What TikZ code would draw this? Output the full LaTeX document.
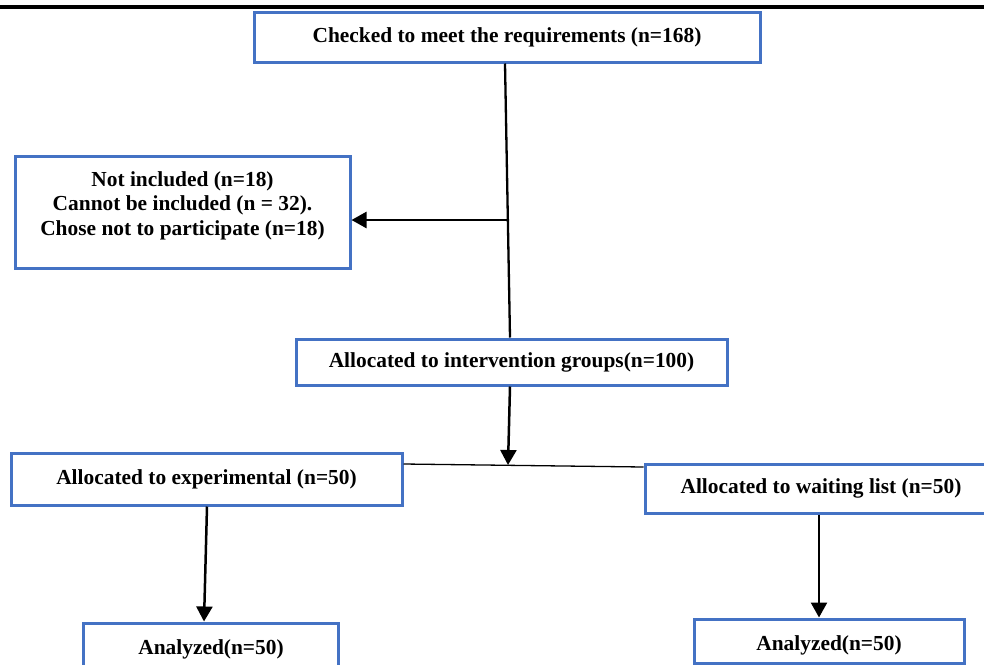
\documentclass[tikz,border=0pt]{standalone}
\usepackage{fontspec}
\setmainfont{Liberation Serif}
\usetikzlibrary{arrows.meta}
\definecolor{boxblue}{HTML}{4472C4}
\tikzset{
  boxnode/.style={draw=boxblue, line width=3pt, inner sep=0pt, fill=none,
    font=\bfseries\fontsize{21.4}{24.5}\selectfont, align=center},
  plaintext/.style={inner sep=0pt, font=\bfseries\fontsize{21.4}{24.5}\selectfont, align=center},
  conn/.style={line width=2.3pt, black},
  thinconn/.style={line width=1.3pt, black},
  arr/.style={line width=2.5pt, black, -{Triangle[length=15pt,width=16pt]}},
}
\begin{document}
\begin{tikzpicture}[x=1pt, y=-1pt]
\useasboundingbox (0,0) rectangle (984,664);
\clip (0,0) rectangle (984,664);
\fill[white] (0,0) rectangle (984,664);
\draw[line width=3.5pt] (0,7) -- (984,7);

\node[boxnode, minimum width=506pt, minimum height=50pt] (b1) at (507,37)
  {Checked to meet the requirements (n=168)};
\node[boxnode, minimum width=335pt, minimum height=112pt] (nb) at (182.5,212) {};
\node[plaintext] (nbt) at (182.5,205.5)
  {Not included (n=18)\\Cannot be included (n = 32).\\Chose not to participate (n=18)};
\node[boxnode, minimum width=431pt, minimum height=46pt] (iv) at (511.5,362)
  {Allocated to intervention groups(n=100)};
\node[boxnode, minimum width=391pt, minimum height=52pt] (exp) at (206.5,479)
  {Allocated to experimental (n=50)};
\node[boxnode, minimum width=352pt, minimum height=49pt] (wait) at (821,488.5)
  {Allocated to waiting list (n=50)};
\node[boxnode, minimum width=255.5pt, minimum height=53pt] (ana1) at (211,649.5)
  {Analyzed(n=50)};
\node[boxnode, minimum width=270pt, minimum height=44pt] (ana2) at (829,641) {};
\node[plaintext] (ana2t) at (829,645) {Analyzed(n=50)};

\coordinate (j1) at (508,220);
\coordinate (j2) at (508,465);

\draw[conn] ([xshift=-2pt]b1.south) -- ([xshift=-1.5pt]iv.north);
\draw[arr] (j1) -- (j1 -| nb.east);
\draw[arr] ([xshift=-1.5pt]iv.south) -- (j2);
\draw[thinconn] ([yshift=15pt]exp.east) -- ([yshift=21.5pt]wait.west);
\draw[arr] ([xshift=0.5pt]exp.south) -- ([xshift=-7pt]ana1.north);
\draw[arr] ([xshift=-2pt]wait.south) -- ([xshift=-10pt]ana2.north);
\end{tikzpicture}
\end{document}
